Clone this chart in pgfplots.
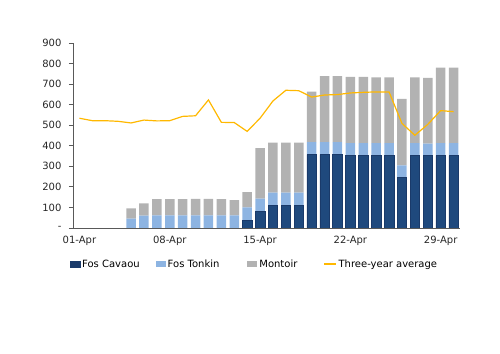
\documentclass[border=0pt]{standalone}
\usepackage{fontspec}
\setmainfont{DejaVu Sans}
\usepackage{pgfplots}
\pgfplotsset{compat=1.18}
\definecolor{cav}{HTML}{1F497D}
\definecolor{cavedge}{HTML}{1A3A6A}
\definecolor{ton}{HTML}{8DB4E2}
\definecolor{mon}{HTML}{B2B2B2}
\definecolor{avg}{HTML}{FFB800}
\definecolor{axl}{HTML}{595959}
\pgfplotstableread{
day cav ton mon
5   0   45  51
6   0   60  60
7   0   62  78
8   0   62  78
9   0   62  78
10  0   62  80
11  0   62  80
12  0   62  79
13  0   62  74
14  36  64  74
15  81  62  246
16  110 62  243
17  110 62  243
18  110 62  243
19  357 61  245
20  357 61  321
21  357 61  321
22  352 61  322
23  352 61  322
24  355 58  320
25  355 58  320
26  248 57  323
27  355 58  320
28  352 58  320
29  352 61  367
30  352 61  367
}\bars
\pgfplotstableread{
day avg
1  534
2  522
3  522
4  519
5  511
6  525
7  521
8  522
9  543
10 546
11 623
12 514
13 513
14 470
15 534
16 618
17 670
18 668
19 637
20 647
21 649
22 657
23 660
24 662
25 662
26 509
27 451
28 504
29 571
30 566
}\avgtab
\begin{document}
\begin{tikzpicture}[x=1pt,y=1pt]
\path[use as bounding box] (0,0) rectangle (500,353);
\pgfplotsset{
  common/.style={
    at={(73pt,125pt)}, anchor=south west, scale only axis,
    width=387pt, height=185pt,
    xmin=0.5, xmax=30.5, ymin=0, ymax=900,
  }
}
\begin{axis}[common,
  ybar stacked, bar width=9.5pt,
  axis x line*=bottom, axis y line*=left,
  axis line style={axl, line width=0.8pt, -},
  font=\fontsize{10}{12}\selectfont,
  /pgf/number format/assume math mode=true,
  ticklabel style={font=\fontsize{10}{12}\selectfont, text=black!85},
  xtick={1,8,15,22,29},
  xticklabels={01-Apr,08-Apr,15-Apr,22-Apr,29-Apr},
  x tick style={draw=none},
  extra x ticks={0.5,7.5,14.5,21.5,28.5},
  extra x tick labels={},
  extra x tick style={tick style={axl, line width=0.8pt}, major tick length=4pt, tick align=outside},
  ytick={0,100,...,900},
  yticklabels={-,100,200,300,400,500,600,700,800,900},
  y tick style={axl, line width=0.8pt},
  yticklabel style={xshift=-4pt},
  tick align=outside, major tick length=4pt,
  xticklabel style={yshift=-1pt},
  legend columns=4,
  legend style={at={(axis description cs:-0.009,-0.195)}, anchor=west, draw=none,
    fill=none, inner xsep=0pt, font=\fontsize{10}{12}\selectfont,
    /tikz/column 2/.style={column sep=14pt},
    /tikz/column 4/.style={column sep=26pt},
    /tikz/column 6/.style={column sep=24pt},
    nodes={inner xsep=2pt}},
  legend cell align=left,
]
\addplot[fill=cav, draw=cavedge, line width=0.5pt,
  legend image code/.code={\fill[cav] (0pt,-3pt) rectangle (10pt,3pt); \draw[cavedge,line width=0.5pt] (0pt,-3pt) rectangle (10pt,3pt);}]
  table[x=day, y=cav] {\bars};
\addlegendentry{Fos Cavaou}
\addplot[fill=ton, draw=none,
  legend image code/.code={\fill[ton] (0pt,-3pt) rectangle (10pt,3pt);}]
  table[x=day, y=ton] {\bars};
\addlegendentry{Fos Tonkin}
\addplot[fill=mon, draw=none,
  legend image code/.code={\fill[mon] (0pt,-3pt) rectangle (10pt,3pt);}]
  table[x=day, y=mon] {\bars};
\addlegendentry{Montoir}
\addlegendimage{avg, line width=1.2pt, legend image code/.code={\draw[avg,line width=1.2pt] (0pt,0pt) -- (12pt,0pt);}}
\addlegendentry{Three-year average}
\end{axis}
\begin{axis}[common, axis lines=none, ticks=none]
\addplot[avg, line width=1.2pt, mark=none] table[x=day, y=avg] {\avgtab};
\end{axis}
\end{tikzpicture}
\end{document}
